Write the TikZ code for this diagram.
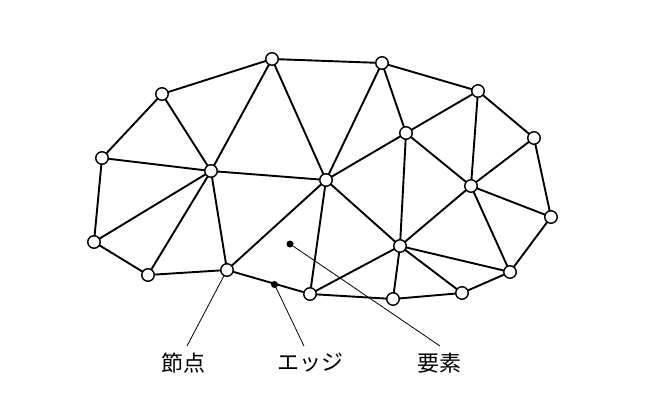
\documentclass[tikz,border=0pt]{standalone}
\usepackage{fontspec}
\newfontfamily\cjk{Noto Sans CJK JP}
\begin{document}
\begin{tikzpicture}[x=1pt,y=-1pt,
  vtx/.style={circle,draw=black,fill=white,line width=1.4pt,minimum size=12.5pt,inner sep=0pt},
  dotp/.style={circle,fill=black,minimum size=7pt,inner sep=0pt},
  edge/.style={line width=1.9pt},
  leader/.style={line width=0.8pt},
  lbl/.style={font=\cjk\fontsize{22}{24}\selectfont,inner sep=0pt}]
\useasboundingbox (0,0) rectangle (659,420);
\coordinate (A) at (272,59);
\coordinate (B) at (162,94);
\coordinate (C) at (102,158);
\coordinate (D) at (211,171);
\coordinate (E) at (326,180);
\coordinate (F) at (94,242);
\coordinate (G) at (148,275);
\coordinate (H) at (227,270);
\coordinate (I) at (310,294);
\coordinate (J) at (382,63);
\coordinate (K) at (478,91);
\coordinate (L) at (406,133);
\coordinate (M) at (534,138);
\coordinate (N) at (471,186);
\coordinate (O) at (551,217);
\coordinate (P) at (400,246);
\coordinate (Q) at (510,272);
\coordinate (R) at (462,293);
\coordinate (S) at (393,299);
% edges
\draw[edge] (C)--(B)--(A)--(J)--(K)--(M)--(O)--(Q)--(R)--(S)--(I)--(H)--(G)--(F)--cycle;
\foreach \u/\v in {B/D,C/D,A/D,A/E,D/E,F/D,G/D,H/D,H/E,E/I,E/J,E/L,E/P,J/L,L/K,L/P,L/N,K/N,M/N,N/O,N/Q,N/P,P/I,P/S,P/R,P/Q}
  \draw[edge] (\u)--(\v);
% labels and leaders
\node[lbl] (l1) at (183,363) {節点};
\node[lbl] (l2) at (310,363) {エッジ};
\node[lbl] (l3) at (439,363) {要素};
\node[dotp] (ed) at (274.5,284.5) {};
\node[dotp] (el) at (290,244) {};
\coordinate (t1) at (187,346);
\coordinate (t2) at (304,346);
\coordinate (t3) at (440,346);
\draw[leader] (H)--(t1);
\draw[leader] (ed.center)--(t2);
\draw[leader] (el.center)--(t3);
% vertices
\foreach \p in {A,B,C,D,E,F,G,H,I,J,K,L,M,N,O,P,Q,R,S}
  \node[vtx] (v\p) at (\p) {};
\end{tikzpicture}
\end{document}
